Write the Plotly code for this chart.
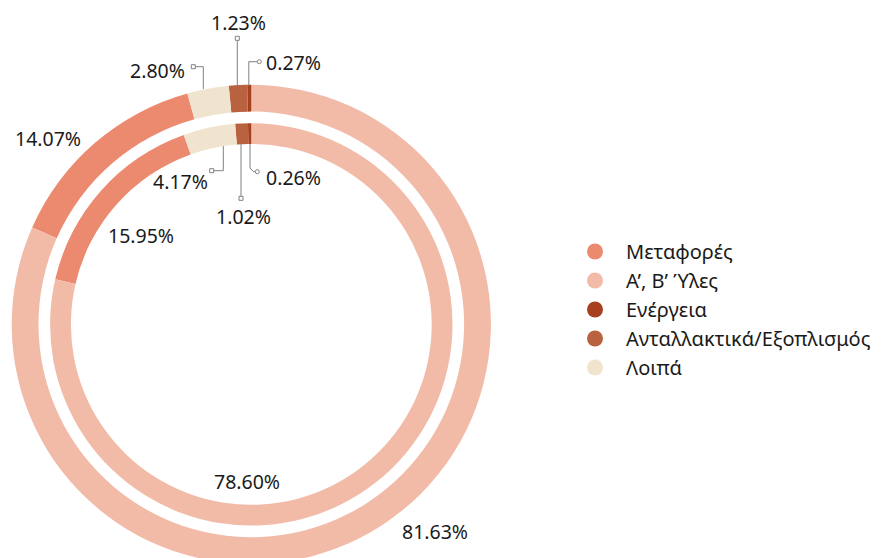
import plotly.graph_objects as go

# ---------------- data ----------------
categories = ["Μεταφορές", "Α’, Β’ Ύλες", "Ενέργεια", "Ανταλλακτικά/Εξοπλισμός", "Λοιπά"]
outer_values = [14.07, 81.63, 0.27, 1.23, 2.80]
inner_values = [15.95, 78.60, 0.26, 1.02, 4.17]
colors = ["#EC8A6F", "#F2BBA8", "#A6401F", "#B9623F", "#F0E4CE"]

W, H = 881, 570
FONT = "Noto Sans"
TXT = "#1a1a1a"
LEAD = "#808080"


def px(x):
    return x / W


def py(y):
    return 1 - y / H


def domain(cx, cy, r):
    return dict(x=[px(cx - r), px(cx + r)], y=[py(cy + r), py(cy - r)])


CX, CY = 251.3, 324.4
R_OUT, HOLE_OUT = 239.6, 212.8
R_IN, HOLE_IN = 201.2, 180.4

fig = go.Figure()

for vals, r, hole in [(outer_values, R_OUT, HOLE_OUT), (inner_values, R_IN, HOLE_IN)]:
    total = sum(vals)
    fig.add_trace(go.Pie(
        labels=categories,
        values=vals,
        marker=dict(colors=colors, line=dict(width=0)),
        hole=hole / r,
        sort=False,
        direction="counterclockwise",
        rotation=360 * vals[1] / total,
        textinfo="none",
        hoverinfo="label+percent",
        showlegend=False,
        domain=domain(CX, CY, r),
    ))

# legend entries with round markers
for name, c in zip(categories, colors):
    fig.add_trace(go.Scatter(
        x=[None], y=[None], mode="markers", name=name,
        marker=dict(symbol="circle", size=16, color=c),
        legendgroup=name, showlegend=True,
    ))

# ---------------- value labels ----------------
label_texts = [f"{v:.2f}%" for v in outer_values] + [f"{v:.2f}%" for v in inner_values]
# (x, y, xanchor) pixel positions of each label, outer then inner
label_pos = [
    (48.3, 138, "center"),     # 14.07
    (434.5, 531, "center"),    # 81.63
    (264, 62.5, "left"),       # 0.27
    (238.3, 22, "center"),     # 1.23
    (186.7, 70.8, "right"),    # 2.80
    (140.8, 236, "center"),    # 15.95
    (246.7, 481.7, "center"),  # 78.60
    (264, 177.5, "left"),      # 0.26
    (243.3, 216, "center"),    # 1.02
    (210, 181, "right"),       # 4.17
]
annotations = []
for t, (x, y, xa) in zip(label_texts, label_pos):
    annotations.append(dict(
        x=px(x), y=py(y), xref="paper", yref="paper", text=t, showarrow=False,
        xanchor=xa, yanchor="middle", font=dict(family=FONT, size=19.5, color=TXT),
    ))

# ---------------- leader lines ----------------
leaders = [
    [(237.3, 40.3), (237.3, 86)],
    [(248.8, 86), (248.8, 61.7), (257.3, 61.7)],
    [(195.3, 66.7), (203.3, 66.7), (203.3, 89)],
    [(213.7, 170.7), (223.3, 170.7), (223.3, 146)],
    [(241, 196.3), (241, 144)],
    [(250, 144), (250, 168), (253.5, 171.7), (255.3, 171.7)],
]
end_marks = [
    ("rect", 237.3, 38.3),
    ("circle", 259.3, 61.7),
    ("rect", 193.3, 66.7),
    ("rect", 211.7, 170.7),
    ("rect", 241, 198.3),
    ("circle", 257.3, 171.7),
]
shapes = []
for pts in leaders:
    path = "M " + " L ".join(f"{px(x)},{py(y)}" for x, y in pts)
    shapes.append(dict(type="path", path=path, xref="paper", yref="paper",
                       line=dict(color=LEAD, width=1)))
for kind, x, y in end_marks:
    s = 2
    shapes.append(dict(type=kind, xref="paper", yref="paper",
                       x0=px(x - s), x1=px(x + s), y0=py(y + s), y1=py(y - s),
                       line=dict(color=LEAD, width=1), fillcolor="white"))

fig.update_layout(
    width=W, height=H,
    margin=dict(l=0, r=0, t=0, b=0),
    paper_bgcolor="white", plot_bgcolor="white",
    font=dict(family=FONT, color=TXT),
    xaxis=dict(visible=False), yaxis=dict(visible=False),
    annotations=annotations,
    shapes=shapes,
    legend=dict(
        x=px(564), y=py(232), xanchor="left", yanchor="top",
        font=dict(family=FONT, size=20, color=TXT),
        itemwidth=52, tracegroupgap=0, bgcolor="rgba(0,0,0,0)",
        itemclick=False, itemdoubleclick=False,
    ),
    showlegend=True,
)

fig.write_html(
    "out.html",
    config={"displayModeBar": False},
    post_script="document.body.style.margin='0';document.body.style.overflow='hidden';",
)
